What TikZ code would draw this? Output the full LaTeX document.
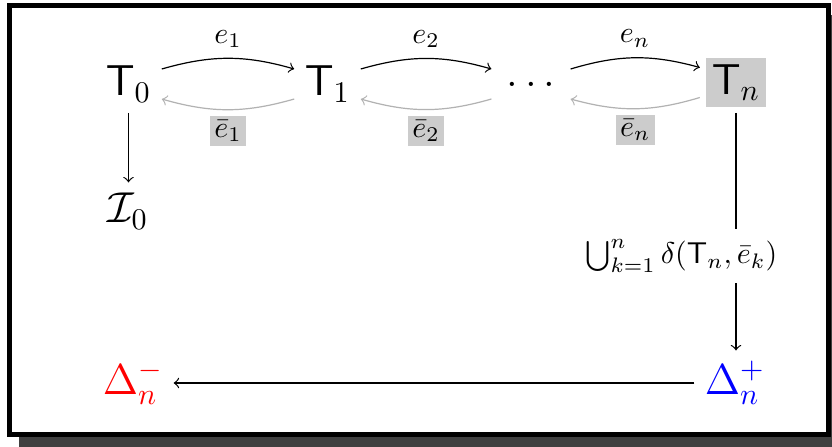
\documentclass[tikz,border=0pt]{standalone}
\usepackage{amsmath,amssymb}
\begin{document}
\begin{tikzpicture}[x=0.3333pt,y=0.3333pt,
  state/.style={inner sep=3.33pt, font=\Large},
  fwd/.style={->},
  back/.style={->, black!30},
  lbl/.style={text=black, fill=black!20, inner sep=1.5pt, outer sep=2pt},
  term/.style={inner sep=3.33pt, font=\Large}]
  % page and framed panel with its shadow
  \useasboundingbox (0,0) rectangle (832,446);
  \clip (0,0) rectangle (832,446);
  \fill[black!75] (19,-3) rectangle (843,431);
  \draw[line width=1.67pt, fill=white] (9.5,11.5) rectangle (828.5,440.5);

  % states
  \node[state] (T0) at (128.5,362) {$\mathsf{T}_0$};
  \node[state] (T1) at (327.5,362) {$\mathsf{T}_1$};
  \node[state, minimum width=26pt] (D) at (531,362) {.\kern2.2pt.\kern2.2pt.};
  \node[state, fill=black!20, inner sep=2pt, outer sep=2pt] (Tn) at (736,363.5) {$\mathsf{T}_n$};
  \node[term] (I0) at (128,235) {$\mathcal{I}_0$};
  \node[term, red] (Dm) at (133,63) {$\Delta_n^-$};
  \node[term, blue] (Dp) at (735,63) {$\Delta_n^+$};
  \node (U) at (681.5,190) {$\bigcup_{k=1}^{n}\delta(\mathsf{T}_n,\bar e_k)$};

  % forward and backward steps
  \draw[fwd] ([yshift=5pt]T0.east) to[bend left=16] node[above] {$e_1$} ([yshift=5pt]T1.west);
  \draw[back] ([yshift=-5pt]T1.west) to[bend left=16] node[below, lbl] {$\bar e_1$} ([yshift=-5pt]T0.east);
  \draw[fwd] ([yshift=5pt]T1.east) to[bend left=16] node[above] {$e_2$} ([yshift=5pt]D.west);
  \draw[back] ([yshift=-5pt]D.west) to[bend left=16] node[below, lbl] {$\bar e_2$} ([yshift=-5pt]T1.east);
  \draw[fwd] ([yshift=5pt]D.east) to[bend left=16] node[above] {$e_n$} ([yshift=5pt]Tn.west);
  \draw[back] ([yshift=-5pt]Tn.west) to[bend left=16] node[below, lbl] {$\bar e_n$} ([yshift=-5pt]D.east);

  % remaining connectors
  \draw[->] (T0.south) -- (T0.south |- I0.north);
  \draw (Tn.south) -- (Tn.south |- U.north);
  \draw[->] (Tn.south |- U.south) -- (Tn.south |- Dp.north);
  \draw[->] (Dp.west) -- (Dm.east);
\end{tikzpicture}
\end{document}
